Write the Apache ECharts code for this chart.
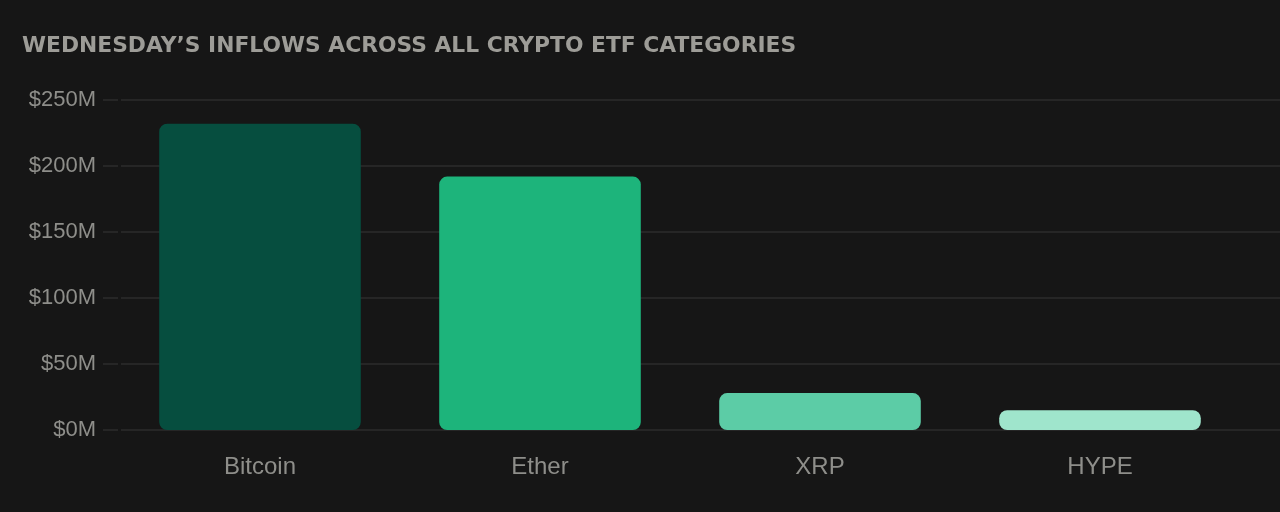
<!DOCTYPE html>
<html>
<head>
<meta charset="utf-8">
<script src="https://cdn.jsdelivr.net/npm/echarts@6/dist/echarts.min.js"></script>
<style>
html,body{margin:0;padding:0;background:#161616;}
#chart{width:1280px;height:512px;}
</style>
</head>
<body>
<div id="chart"></div>
<script>
const titleText = "WEDNESDAY\u2019S INFLOWS ACROSS ALL CRYPTO ETF CATEGORIES";
const categories = ["Bitcoin", "Ether", "XRP", "HYPE"];
const inflows = [232, 192, 28, 15];
const barColors = ["#064e3f", "#1db47b", "#5ccca6", "#9fe5cc"];
const yTicks = [0, 50, 100, 150, 200, 250];

const chart = echarts.init(document.getElementById('chart'), null, {renderer: 'canvas'});
const labelColor = '#8e8e8a';
const lineColor = '#2c2c2c';
chart.setOption({
  backgroundColor: '#161616',
  animation: false,
  title: {
    text: titleText,
    left: 22, top: 35.5, padding: 0,
    textStyle: {color: '#9d9c97', fontFamily: 'DejaVu Sans', fontWeight: 'bold', fontSize: 21.8}
  },
  grid: [
    {left: 120, right: 40, top: 100, bottom: 82},
    {left: 121, right: 0, top: 100, bottom: 82}
  ],
  xAxis: [
    {
      type: 'category', gridIndex: 0, data: categories,
      axisLine: {show: false}, axisTick: {show: false},
      axisLabel: {color: labelColor, fontSize: 24, fontFamily: 'Liberation Sans', margin: 25}
    },
    {type: 'category', gridIndex: 1, data: categories, show: false}
  ],
  yAxis: [
    {
      type: 'value', gridIndex: 0, min: yTicks[0], max: yTicks[yTicks.length - 1], interval: 50,
      offset: 2,
      axisLine: {show: false},
      axisTick: {show: true, length: 15, lineStyle: {color: lineColor, width: 1.5}},
      splitLine: {show: false},
      axisLabel: {color: labelColor, fontSize: 22, fontFamily: 'Liberation Sans', margin: 22,
        formatter: v => '$' + v + 'M'}
    },
    {
      type: 'value', gridIndex: 1, min: yTicks[0], max: yTicks[yTicks.length - 1], interval: 50,
      axisLine: {show: false}, axisTick: {show: false}, axisLabel: {show: false},
      splitLine: {show: true, lineStyle: {color: lineColor, width: 1.5}}
    }
  ],
  series: [{
    type: 'bar', xAxisIndex: 0, yAxisIndex: 0,
    barWidth: '72%',
    data: inflows.map((v, i) => ({value: v, itemStyle: {color: barColors[i], borderRadius: 8}})),
    z: 3
  }]
});
</script>
</body>
</html>
